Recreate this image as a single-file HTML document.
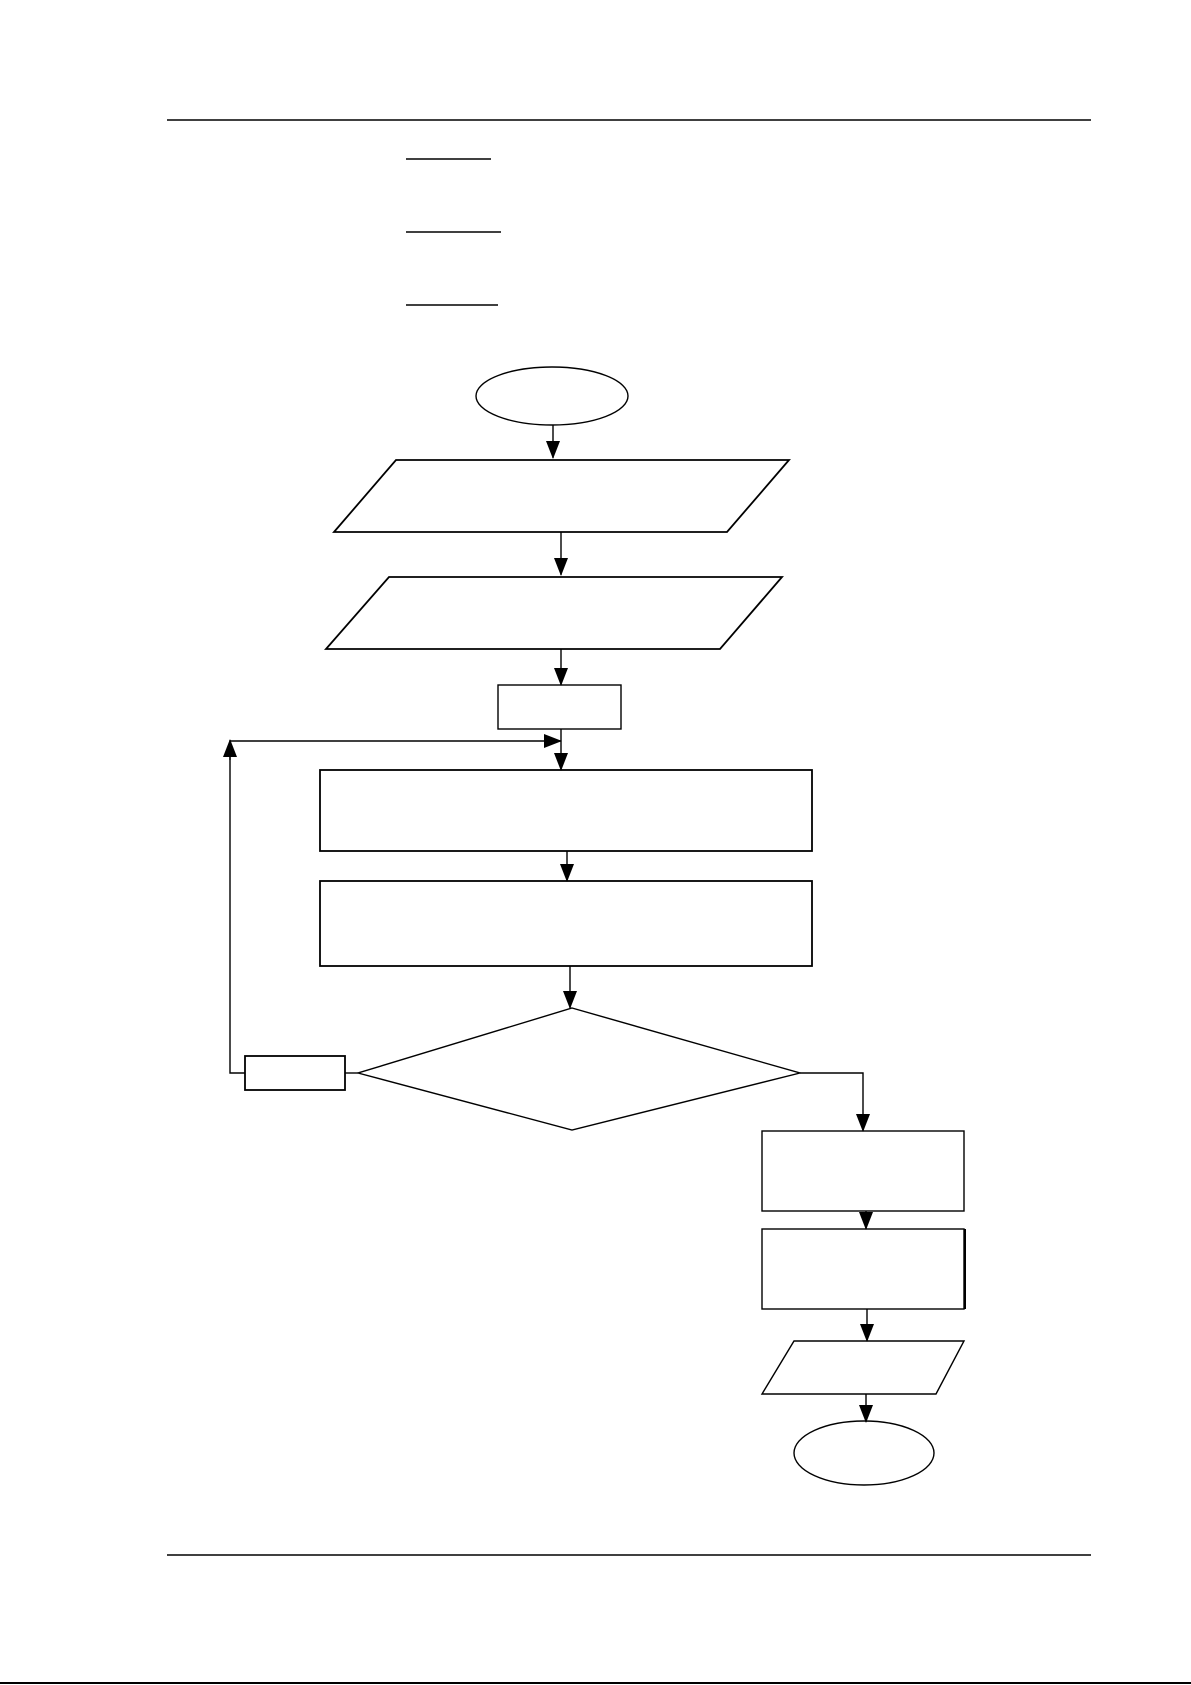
<!DOCTYPE html>
<html><head><meta charset="utf-8"><style>html,body{margin:0;padding:0;background:#fff}svg{display:block}</style></head>
<body>
<svg width="1191" height="1685" viewBox="0 0 1191 1685" xmlns="http://www.w3.org/2000/svg">
<defs><marker id="a" markerWidth="18" markerHeight="14" refX="17" refY="7" orient="auto" markerUnits="userSpaceOnUse"><path d="M0,0 L18,7 L0,14 z" fill="#000"/></marker></defs>
<g stroke="#000" fill="none" stroke-width="1.4">
<line x1="167" y1="120" x2="1091" y2="120"/>
<line x1="406" y1="159" x2="491" y2="159"/>
<line x1="406" y1="232" x2="501" y2="232"/>
<line x1="406" y1="305" x2="498" y2="305"/>
<ellipse cx="552" cy="396" rx="76" ry="29"/>
<line x1="553" y1="425" x2="553" y2="458" marker-end="url(#a)"/>
<polygon points="396,460 789,460 727,532 334,532" stroke-width="1.8"/>
<line x1="561" y1="532" x2="561" y2="575" marker-end="url(#a)"/>
<polygon points="389,577 782,577 720,649 326,649" stroke-width="1.8"/>
<line x1="561" y1="649" x2="561" y2="685" marker-end="url(#a)"/>
<rect x="498" y="685" width="123" height="44"/>
<line x1="561" y1="729" x2="561" y2="770" marker-end="url(#a)"/>
<polyline points="245,1073 230,1073 230,743"/>
<line x1="230" y1="760" x2="230" y2="740" marker-end="url(#a)"/>
<line x1="230" y1="741" x2="561" y2="741" marker-end="url(#a)"/>
<rect x="320" y="770" width="492" height="81" stroke-width="1.8"/>
<line x1="567" y1="851" x2="567" y2="881" marker-end="url(#a)"/>
<rect x="320" y="881" width="492" height="85" stroke-width="1.8"/>
<line x1="570" y1="966" x2="570" y2="1008" marker-end="url(#a)"/>
<polygon points="572,1008 800,1073 572,1130 358,1073"/>
<rect x="245" y="1056" width="100" height="34" stroke-width="1.8"/>
<line x1="345" y1="1073" x2="358" y2="1073"/>
<polyline points="800,1073 863,1073 863,1131" marker-end="url(#a)"/>
<rect x="762" y="1131" width="202" height="80"/>
<line x1="866" y1="1211" x2="866" y2="1229" marker-end="url(#a)"/>
<rect x="762" y="1229" width="202" height="80"/>
<line x1="965" y1="1229" x2="965" y2="1309" stroke-width="2"/>
<line x1="867" y1="1309" x2="867" y2="1341" marker-end="url(#a)"/>
<polygon points="794,1341 964,1341 936,1394 762,1394"/>
<line x1="866" y1="1394" x2="866" y2="1422" marker-end="url(#a)"/>
<ellipse cx="864" cy="1453" rx="70" ry="32"/>
<line x1="167" y1="1555" x2="1091" y2="1555"/>
<line x1="0" y1="1683" x2="1191" y2="1683" stroke-width="2"/>
</g>
</svg>
</body></html>
